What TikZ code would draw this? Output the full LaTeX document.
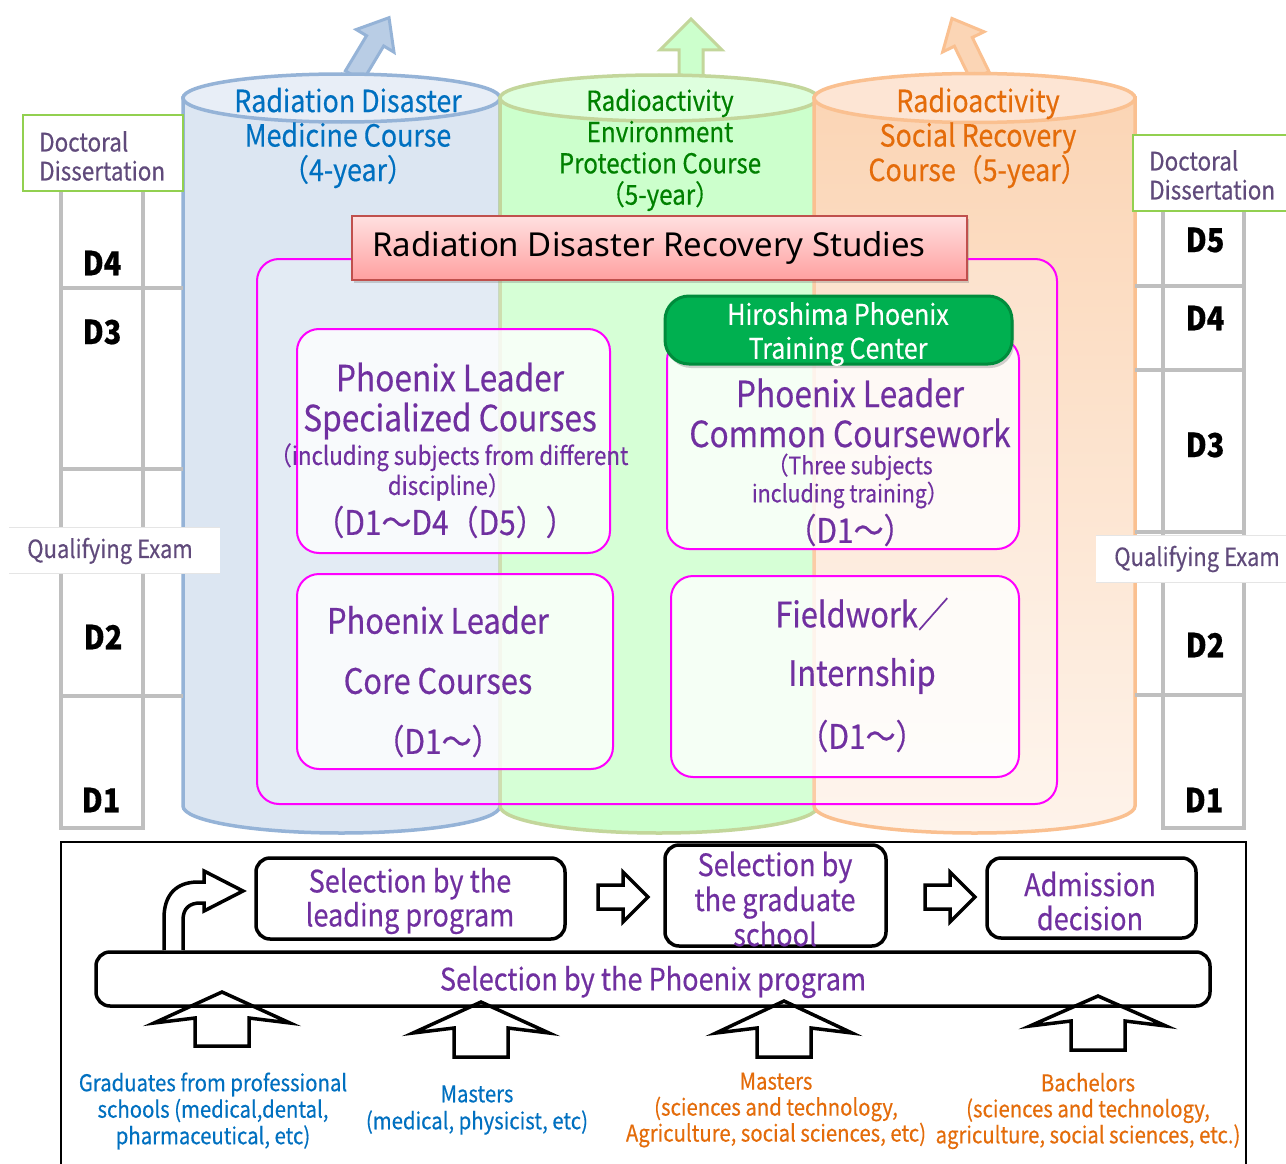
\documentclass[tikz,border=0pt]{standalone}
\usepackage{fontspec}
\setmainfont{Noto Sans CJK JP}[FakeStretch=0.88,FakeBold=0.4]
\newfontfamily\titlefont{Noto Sans}
\usetikzlibrary{shadows}
\definecolor{cblue}{RGB}{0,112,192}
\definecolor{cgreen}{RGB}{0,128,0}
\definecolor{corange}{RGB}{228,108,10}
\definecolor{cpurple}{RGB}{112,48,160}
\definecolor{cgray}{RGB}{96,74,123}
\definecolor{bfill}{RGB}{220,230,242}
\definecolor{btop}{RGB}{232,238,247}
\definecolor{bline}{RGB}{149,179,215}
\definecolor{barrow}{RGB}{185,205,229}
\definecolor{gfill}{RGB}{204,255,204}
\definecolor{gtop}{RGB}{222,255,222}
\definecolor{gline}{RGB}{195,214,155}
\definecolor{ofill}{RGB}{251,213,181}
\definecolor{otop}{RGB}{253,229,212}
\definecolor{oline}{RGB}{250,192,144}
\definecolor{obot}{RGB}{254,243,234}
\definecolor{ladder}{RGB}{191,191,191}
\definecolor{ddgreen}{RGB}{146,208,80}
\definecolor{mag}{RGB}{255,0,255}
\definecolor{badge}{RGB}{0,176,80}
\definecolor{badgeline}{RGB}{0,140,60}
\definecolor{titleline}{RGB}{192,80,77}
\definecolor{titletop}{RGB}{255,224,224}
\definecolor{titlebot}{RGB}{255,160,160}
\newcommand\fz[2]{\fontsize{#1pt}{#2pt}\selectfont}
% cylinder body path: x1 x2 topy boty bottom-ry
\newcommand\cylpath[5]{(#1,#3) -- (#1,#4) .. controls (#1,{#4+0.552*#5}) and ({(#1+#2)/2-0.552*(#2-#1)/2},{#4+#5}) .. ({(#1+#2)/2},{#4+#5}) .. controls ({(#1+#2)/2+0.552*(#2-#1)/2},{#4+#5}) and (#2,{#4+0.552*#5}) .. (#2,#4) -- (#2,#3)}
% up arrow polygon: L headlen headhalf shafthalf
\newcommand\uparrowpoly[4]{(-#4,0) -- (-#4,{-(#1-#2)}) -- (-#3,{-(#1-#2)}) -- (0,-#1) -- (#3,{-(#1-#2)}) -- (#4,{-(#1-#2)}) -- (#4,0) -- cycle}
% bottom block up arrow: cx tip wingy halfw shafthalf bottom
\newcommand\blockup[6]{(#1,#2) -- ({#1+#4},#3) -- ({#1+#5},{#3-5}) -- ({#1+#5},#6) -- ({#1-#5},#6) -- ({#1-#5},{#3-5}) -- ({#1-#4},#3) -- cycle}
% right block arrow: left x, center y
\newcommand\blockright[2]{(#1,{#2-12}) -- ({#1+25},{#2-12}) -- ({#1+25},{#2-25}) -- ({#1+50},#2) -- ({#1+25},{#2+25}) -- ({#1+25},{#2+12}) -- (#1,{#2+12}) -- cycle}
\begin{document}
\begin{tikzpicture}[x=1pt,y=-1pt,
  txt/.style={inner sep=0pt, align=center},
  inbox/.style={draw=mag, line width=2pt, rounded corners=22pt, fill=white, fill opacity=0.78, text opacity=1},
  ladline/.style={draw=ladder, line width=4pt},
  ddbox/.style={draw=ddgreen, line width=2.5pt, fill=white},
  bbox/.style={draw=black, line width=3.5pt, rounded corners=14pt, fill=white},
  blk/.style={draw=black, line width=3.5pt, line join=miter},
  dlab/.style={txt, font=\bfseries\fz{33}{33}},
  ptxt/.style={txt, text=cpurple}]
\useasboundingbox (0,0) rectangle (1286,1164);
\fill[white] (0,0) rectangle (1286,1164);
% ---------- top arrows ----------
\begin{scope}[shift={(354,76)},rotate=-31]
  \filldraw[fill=barrow,draw=bline,line width=3pt,line join=miter] \uparrowpoly{68}{27}{22}{10};
\end{scope}
\begin{scope}[shift={(691,76)}]
  \filldraw[fill=gfill,draw=gline,line width=3pt,line join=miter] \uparrowpoly{57}{31}{31}{12};
\end{scope}
\begin{scope}[shift={(980,76)},rotate=26]
  \filldraw[fill=ofill,draw=oline,line width=3pt,line join=miter] \uparrowpoly{64}{26}{23}{10};
\end{scope}
% ---------- cylinders ----------
\filldraw[fill=bfill,draw=bline,line width=3.5pt] \cylpath{183}{500}{98}{806}{27} -- cycle;
\filldraw[fill=btop,draw=bline,line width=3.5pt] (341.5,98) ellipse [x radius=158.5, y radius=24];
\filldraw[fill=gfill,draw=gline,line width=3.5pt] \cylpath{500}{818}{98}{806}{27} -- cycle;
\filldraw[fill=gtop,draw=gline,line width=3.5pt] (659,98) ellipse [x radius=159, y radius=23];
\shade[top color=ofill,bottom color=obot] \cylpath{814}{1135}{98}{806}{27} -- cycle;
\draw[draw=oline,line width=3.5pt] \cylpath{814}{1135}{98}{806}{27} -- cycle;
\filldraw[fill=otop,draw=oline,line width=3.5pt] (974.5,98) ellipse [x radius=160.5, y radius=24.5];
\node[txt,text=cblue,font=\fz{30.5}{34.5}] (bt) at (348,138) {Radiation Disaster\\Medicine Course\\（4-year）};
\node[txt,text=cgreen,font=\fz{27.5}{31.3}] (gt) at (660,150) {Radioactivity\\Environment\\Protection Course\\（5-year）};
\node[txt,text=corange,font=\fz{30.5}{34.5}] (ot) at (978,138) {Radioactivity\\Social Recovery\\Course（5-year）};
% ---------- left ladder ----------
\draw[ladline] (61,191) -- (61,830) (143,191) -- (143,830);
\draw[ladline] (61,288) -- (183,288) (61,469) -- (183,469) (61,696) -- (183,696) (59,828) -- (145,828);
\draw[ddbox] (23,115) rectangle (183,191);
\node[txt,align=left,anchor=west,text=cgray,font=\fz{25.5}{29}] (ddl) at (39,156) {Doctoral\\Dissertation};
\fill[white] (9,527) rectangle (220,573);
\draw[black!10,line width=0.8pt] (9,527) -- (220,527) (9,573) -- (220,573);
\node[txt,text=cgray,font=\fz{25}{25}] (ql) at (110,551) {Qualifying Exam};
\node[dlab] (l4) at (102,263) {D4};
\node[dlab] (l3) at (102,332) {D3};
\node[dlab] (l2) at (103,637) {D2};
\node[dlab] (l1) at (101,800) {D1};
% ---------- right ladder ----------
\draw[ladline] (1163,211) -- (1163,830) (1244,211) -- (1244,830);
\draw[ladline] (1135,286) -- (1244,286) (1135,370) -- (1244,370) (1135,532) -- (1244,532) (1135,695) -- (1244,695) (1161,828) -- (1246,828);
\draw[ddbox] (1133,135) rectangle (1292,211);
\node[txt,align=left,anchor=west,text=cgray,font=\fz{25.5}{29}] (ddr) at (1149,175) {Doctoral\\Dissertation};
\fill[white] (1096,535) rectangle (1286,582);
\draw[black!10,line width=0.8pt] (1096,535) -- (1286,535) (1096,582) -- (1286,582);
\node[txt,text=cgray,font=\fz{25}{25}] (qr) at (1197,559) {Qualifying Exam};
\node[dlab] (r5) at (1205,240) {D5};
\node[dlab] (r4) at (1205,318) {D4};
\node[dlab] (r3) at (1205,445) {D3};
\node[dlab] (r2) at (1205,645) {D2};
\node[dlab] (r1) at (1204,800) {D1};
% ---------- central block ----------
\filldraw[draw=mag,line width=2pt,rounded corners=22pt,fill=white,fill opacity=0.2] (257,259) rectangle (1057,804);
\shade[top color=titletop,bottom color=titlebot,drop shadow={opacity=0.35,shadow xshift=2pt,shadow yshift=-3pt}] (352,216) rectangle (967,280);
\draw[titleline,line width=2pt] (352,216) rectangle (967,280);
\node[txt,font=\titlefont\fz{33}{33}] (title) at (649,248) {Radiation Disaster Recovery Studies};
\path[inbox] (297,329) rectangle (610,553);
\path[inbox] (667,338) rectangle (1019,549);
\path[inbox] (297,574) rectangle (613,769);
\path[inbox] (671,576) rectangle (1019,777);
\filldraw[fill=badge,draw=badgeline,line width=3pt,rounded corners=24pt,drop shadow={opacity=0.35,shadow xshift=2pt,shadow yshift=-4pt}] (665,296) rectangle (1012,364);
\node[txt,text=white,font=\fz{28.5}{34}] (badge) at (838,334) {Hiroshima Phoenix\\Training Center};
\node[ptxt,font=\fz{36}{40}] (s1) at (450,401) {Phoenix Leader\\Specialized Courses};
\node[ptxt,font=\fz{25.3}{30}] (s2) at (449,472) {（including subjects from different\\discipline）};
\node[ptxt,font=\fz{34}{34}] (s3) at (445,522) {（D1～D4（D5））};
\node[ptxt,font=\fz{36}{40}] (c1) at (850,413) {Phoenix Leader\\Common Coursework};
\node[ptxt,font=\fz{24.2}{28}] (c2) at (850,481) {（Three subjects\\including training）};
\node[ptxt,font=\fz{34}{34}] (c3) at (850,530) {（D1～）};
\node[ptxt,font=\fz{35}{35}] (k1) at (438,620) {Phoenix Leader};
\node[ptxt,font=\fz{35}{35}] (k2) at (438,681) {Core Courses};
\node[ptxt,font=\fz{34}{34}] (k3) at (438,741) {（D1～）};
\node[ptxt,font=\fz{35}{35}] (f1) at (862,614) {Fieldwork／};
\node[ptxt,font=\fz{35}{35}] (f2) at (862,676) {Internship};
\node[ptxt,font=\fz{34}{34}] (f3) at (862,736) {（D1～）};
% ---------- bottom section ----------
\draw[black,line width=2pt] (61,1166) -- (61,842) -- (1246,842) -- (1246,1166);
\draw[bbox] (256,858) rectangle (565,939);
\node[ptxt,font=\fz{30.8}{34}] (sel1) at (410,901) {Selection by the\\leading program};
\draw[bbox] (665,845) rectangle (886,946);
\node[ptxt,font=\fz{30.8}{35}] (sel2) at (775,899) {Selection by\\the graduate\\school};
\draw[bbox] (987,858) rectangle (1196,938);
\node[ptxt,font=\fz{30.8}{34}] (adm) at (1090,901) {Admission\\decision};
\draw[blk,fill=white] \blockright{598}{897};
\draw[blk,fill=white] \blockright{925}{897};
\draw[bbox] (96,952) rectangle (1210,1006);
\node[ptxt,font=\fz{30.8}{30.8}] (bar) at (653,982) {Selection by the Phoenix program};
\draw[blk,fill=white] (164,950) -- (164,918) .. controls (164,895) and (176,882) .. (198,882) -- (204,882) -- (204,871) -- (243,891) -- (204,911) -- (204,903) -- (200,903) .. controls (190,903) and (183,908) .. (183,920) -- (183,950);
\draw[blk] \blockup{222}{992}{1023}{68}{27}{1046};
\draw[blk] \blockup{481}{1002}{1033}{68}{27}{1057};
\draw[blk] \blockup{784}{1001}{1033}{68}{27}{1057};
\draw[blk] \blockup{1098}{996}{1026}{68}{27}{1050};
\node[txt,text=cblue,font=\fz{23.1}{26.5}] (la) at (213,1111) {Graduates from professional\\schools (medical,dental,\\pharmaceutical, etc)};
\node[txt,text=cblue,font=\fz{23.1}{27}] (lb) at (477,1110) {Masters\\(medical, physicist, etc)};
\node[txt,text=corange,font=\fz{23.1}{26}] (lc) at (776,1110) {Masters\\(sciences and technology,\\Agriculture, social sciences, etc)};
\node[txt,text=corange,font=\fz{23.1}{26}] (ld) at (1088,1111) {Bachelors\\(sciences and technology,\\agriculture, social sciences, etc.)};
\end{tikzpicture}
\end{document}
